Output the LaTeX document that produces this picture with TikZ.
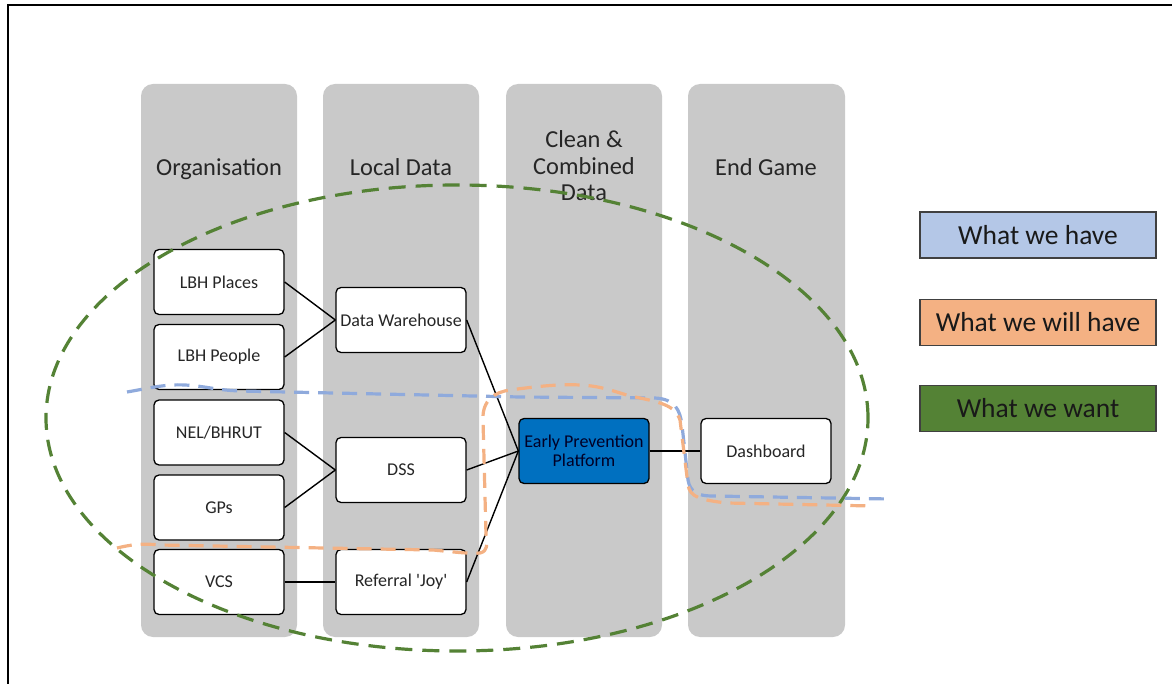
\documentclass[tikz,border=0pt]{standalone}
\usepackage{fontspec}
\setmainfont{Carlito}[Ligatures=TeXOff]
\definecolor{colgray}{HTML}{C9C9C9}
\definecolor{eppblue}{HTML}{0070C0}
\definecolor{lgblue}{HTML}{B4C7E7}
\definecolor{lgorange}{HTML}{F4B183}
\definecolor{lggreen}{HTML}{548235}
\definecolor{dashblue}{HTML}{8FAADC}
\definecolor{dashorange}{HTML}{F4B183}
\definecolor{txt}{HTML}{262626}
\tikzset{
  column/.style={fill=colgray, rounded corners=12pt, draw=none},
  header/.style={font=\fontsize{24.4}{26.5}\selectfont, text=txt, align=center},
  oneline/.style={text height=17pt, text depth=5pt},
  boxnode/.style={draw=black, fill=white, rounded corners=5pt, line width=1.3pt,
    minimum width=130pt, minimum height=65pt, inner sep=0pt,
    font=\fontsize{18}{19}\selectfont, text=txt, align=center},
  conn/.style={draw=black, line width=1.4pt},
  legend/.style={draw=black!75, line width=1.2pt, minimum width=236pt, minimum height=46pt,
    inner sep=0pt, font=\fontsize{27.5}{28}\selectfont, text=black!90},
  dashline/.style={line width=3.2pt, dash pattern=on 15pt off 9pt},
}
\begin{document}
\begin{tikzpicture}[x=1pt, y=-1pt]
\useasboundingbox (0,0) rectangle (1172,684);
% frame
\draw[line width=2pt] (8,684) -- (8,5) -- (1172,5);
% columns
\fill[column] (141,84) rectangle (297,637);
\fill[column] (323,84) rectangle (479,637);
\fill[column] (506,84) rectangle (662,637);
\fill[column] (688,84) rectangle (845,637);
% headers
\node[header, oneline] (h1) at (219,170) {Organisation};
\node[header, oneline] (h2) at (401,170) {Local Data};
\node[header] (h3) at (584,166) {Clean \&\\Combined\\Data};
\node[header, oneline] (h4) at (766,170) {End Game};
% boxes
\node[boxnode] (lp) at (219,282) {LBH Places};
\node[boxnode] (lpe) at (219,357) {LBH People};
\node[boxnode] (nel) at (219,432.5) {NEL/BHRUT};
\node[boxnode] (gp) at (219,507.5) {GPs};
\node[boxnode] (vcs) at (219,582) {VCS};
\node[boxnode] (dw) at (401,320) {Data Warehouse};
\node[boxnode] (dss) at (401,470) {DSS};
\node[boxnode] (ref) at (401,582) {Referral 'Joy'};
\node[boxnode, fill=eppblue, text=black!85!blue] (epp) at (584,451) {Early Prevention\\Platform};
\node[boxnode] (dash) at (766,451) {Dashboard};
% connectors
\draw[conn] (lp.east) -- (dw.west);
\draw[conn] (lpe.east) -- (dw.west);
\draw[conn] (nel.east) -- (dss.west);
\draw[conn] (gp.east) -- (dss.west);
\draw[conn] (vcs.east) -- (ref.west);
\draw[conn] (dw.east) -- (epp.west);
\draw[conn] (dss.east) -- (epp.west);
\draw[conn] (ref.east) -- (epp.west);
\draw[conn] (epp.east) -- (dash.west);
% legend
\node[legend, fill=lgblue] (l1) at (1038,235) {What we have};
\node[legend, fill=lgorange] (l2) at (1038,322.5) {What we will have};
\node[legend, fill=lggreen] (l3) at (1038,408.5) {What we want};
% dashed regions
\draw[dashline, draw=lggreen, dash pattern=on 17pt off 10pt] (457,418) ellipse [x radius=411pt, y radius=233pt];
\draw[dashline, draw=dashblue] (127,392) .. controls (150,388) and (165,384) .. (185,385)
  .. controls (205,386) and (215,390) .. (240,391) -- (520,397) -- (655,398)
  .. controls (675,399) and (680,410) .. (682,425) -- (688,480)
  .. controls (690,492) and (698,496) .. (712,496) -- (890,499);
\draw[dashline, draw=dashorange] (117,548) .. controls (130,545) and (140,543) .. (160,545)
  -- (433,550) .. controls (455,552) and (470,554) .. (480,553)
  .. controls (488,551) and (487,545) .. (486,535) -- (483,420)
  .. controls (482,400) and (495,392) .. (510,390)
  .. controls (540,386) and (560,384) .. (580,385)
  .. controls (600,386) and (610,390) .. (630,396)
  .. controls (660,402) and (675,405) .. (680,420) -- (688,485)
  .. controls (690,497) and (700,500) .. (727,503) -- (873,506);
\end{tikzpicture}
\end{document}
